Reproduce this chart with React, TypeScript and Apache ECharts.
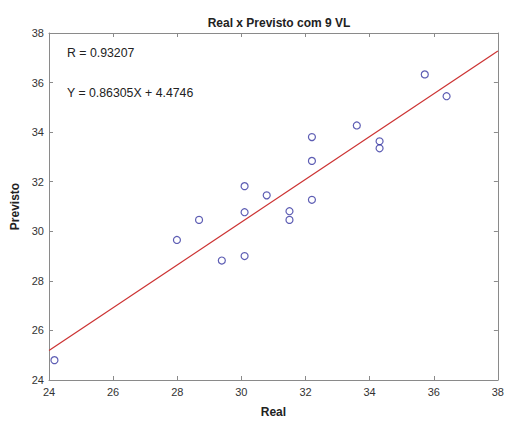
import React, { useEffect, useRef } from "react";
import * as echarts from "echarts";

const realValues = [24.17, 27.99, 28.68, 29.39, 30.1, 30.1, 30.1, 30.79, 31.5, 31.5, 32.2, 32.2, 32.2, 33.6, 34.31, 34.31, 35.72, 36.4];
const previstoValues = [24.8, 29.65, 30.46, 28.82, 29.0, 30.77, 31.82, 31.45, 30.81, 30.46, 31.27, 32.84, 33.8, 34.27, 33.63, 33.35, 36.33, 35.45];
const fitX = [24, 38];
const fitY = [25.19, 37.27];
const annotations = ["R = 0.93207", "Y = 0.86305X + 4.4746"];

export default function App() {
  const ref = useRef<HTMLDivElement>(null);
  useEffect(() => {
    const chart = echarts.init(ref.current!, null, { renderer: "svg" });
    const axisLine = { lineStyle: { color: "#8a8a8a", width: 1 } };
    const tick = { inside: true, length: 4, lineStyle: { color: "#8a8a8a" } };
    const font = "Liberation Sans, Arial, sans-serif";
    const label = { color: "#333", fontSize: 11, fontFamily: font };
    chart.setOption({
      animation: false,
      backgroundColor: "#fff",
      title: {
        text: "Real x Previsto com 9 VL",
        left: 274,
        textAlign: "center",
        top: 12,
        textStyle: { fontSize: 12, fontWeight: "bold", color: "#222", fontFamily: font },
      },
      grid: { left: 49, right: 6, top: 33, bottom: 33, containLabel: false },
      xAxis: [
        {
          type: "value", min: 24, max: 38, interval: 2,
          name: "Real", nameLocation: "middle", nameGap: 26,
          nameTextStyle: { fontSize: 12, fontWeight: "bold", color: "#222", fontFamily: font },
          axisLine, axisTick: tick, axisLabel: { ...label, margin: 6 }, splitLine: { show: false },
        },
        {
          type: "value", min: 24, max: 38, interval: 2, position: "top",
          axisLine, axisTick: tick, axisLabel: { show: false }, splitLine: { show: false },
        },
      ],
      yAxis: [
        {
          type: "value", min: 24, max: 38, interval: 2,
          name: "Previsto", nameLocation: "middle", nameGap: 25, nameRotate: 90,
          nameTextStyle: { fontSize: 12, fontWeight: "bold", color: "#222", fontFamily: font },
          axisLine, axisTick: tick, axisLabel: { ...label, margin: 5 }, splitLine: { show: false },
        },
        {
          type: "value", min: 24, max: 38, interval: 2, position: "right",
          axisLine, axisTick: tick, axisLabel: { show: false }, splitLine: { show: false },
        },
      ],
      graphic: [
        { type: "text", left: 67, top: 47, style: { text: annotations[0], fontSize: 12.3, fill: "#222", fontFamily: font } },
        { type: "text", left: 67, top: 87, style: { text: annotations[1], fontSize: 12.3, fill: "#222", fontFamily: font } },
      ],
      series: [
        {
          type: "line",
          data: fitX.map((x, i) => [x, fitY[i]]),
          symbol: "none",
          lineStyle: { color: "#cc3333", width: 1.2 },
          z: 2,
        },
        {
          type: "scatter",
          data: realValues.map((x, i) => [x, previstoValues[i]]),
          symbol: "circle",
          symbolSize: 7,
          itemStyle: { color: "transparent", borderColor: "#3535a0", borderWidth: 1.2 },
          z: 3,
        },
      ],
    });
    return () => chart.dispose();
  }, []);
  return <div ref={ref} style={{ width: 507, height: 423, position: "absolute", left: 0, top: 0 }} />;
}
